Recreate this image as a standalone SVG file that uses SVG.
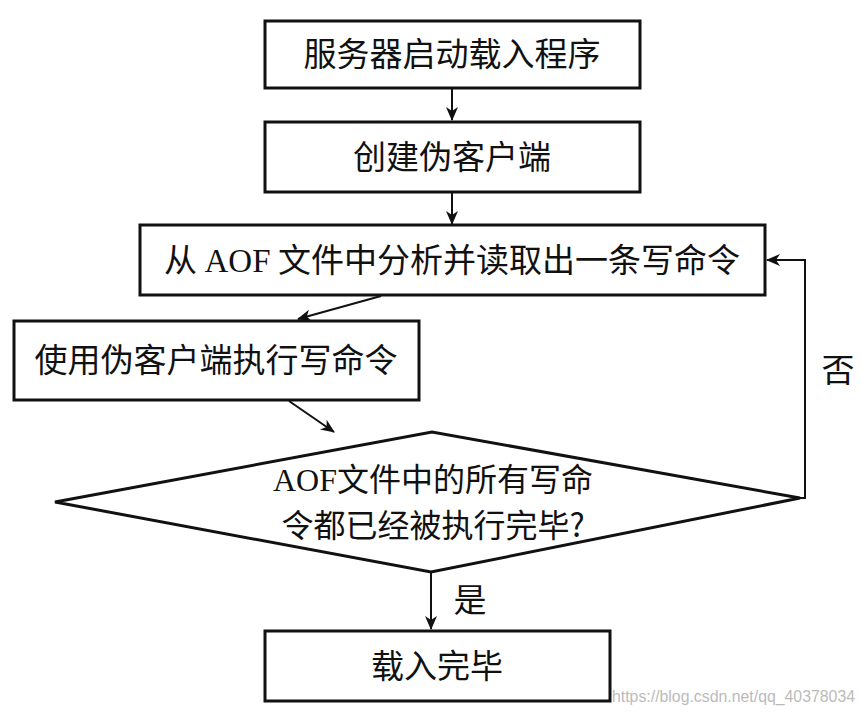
<svg xmlns="http://www.w3.org/2000/svg" width="862" height="718" viewBox="0 0 862 718">
<style>
.box{fill:#fff;stroke:#111;stroke-width:3}
.t{font-family:"Noto Sans CJK SC","Liberation Sans",sans-serif;font-size:33px;fill:#111;text-anchor:middle}
.d{font-size:32px}
.s{font-family:"Liberation Serif",serif}
.c{fill:none;stroke:#111;stroke-width:2}
.wm{font-family:"Liberation Sans",sans-serif;font-size:16px;fill:#bbb}
</style>
<defs>
<marker id="ah" viewBox="0 0 14 14" refX="13" refY="7" markerWidth="14" markerHeight="14" markerUnits="userSpaceOnUse" orient="auto">
<path d="M0,1 L14,7 L0,13 L4,7 Z" fill="#111"/>
</marker>
</defs>
<rect width="862" height="718" fill="#fff"/>
<g id="connectors">
<line class="c" x1="452" y1="89" x2="452" y2="120" marker-end="url(#ah)"/>
<line class="c" x1="452" y1="193" x2="452" y2="224" marker-end="url(#ah)"/>
<line class="c" x1="381" y1="296" x2="298" y2="319" marker-end="url(#ah)"/>
<line class="c" x1="289" y1="401" x2="334" y2="432" marker-end="url(#ah)"/>
<polyline class="c" points="800,498 805,498 805,260 767,260" marker-end="url(#ah)"/>
<line class="c" x1="431" y1="573" x2="431" y2="629" marker-end="url(#ah)"/>
<text class="t" x="838" y="382">否</text>
<text class="t" x="470" y="612">是</text>
</g>
<g id="n1">
<rect class="box" x="265" y="21" width="375" height="67"/>
<text class="t" x="452" y="66">服务器启动载入程序</text>
</g>
<g id="n2">
<rect class="box" x="265" y="122" width="375" height="70"/>
<text class="t" x="452" y="169">创建伪客户端</text>
</g>
<g id="n3">
<rect class="box" x="140" y="225" width="625" height="70"/>
<text class="t" x="452" y="272">从 <tspan class="s">AOF</tspan> 文件中分析并读取出一条写命令</text>
</g>
<g id="n4">
<rect class="box" x="14" y="321" width="405" height="79"/>
<text class="t" x="216" y="372">使用伪客户端执行写命令</text>
</g>
<g id="n5">
<polygon class="box" points="55,502 432,432 800,498 431,572"/>
<text class="t d" x="433" y="491"><tspan class="s">AOF</tspan>文件中的所有写命</text>
<text class="t d" x="433" y="537">令都已经被执行完毕?</text>
</g>
<g id="n6">
<rect class="box" x="265" y="631" width="345" height="70"/>
<text class="t" x="437" y="678">载入完毕</text>
</g>
<text class="wm" x="612" y="702" textLength="243" lengthAdjust="spacingAndGlyphs">https://blog.csdn.net/qq_40378034</text>
</svg>
